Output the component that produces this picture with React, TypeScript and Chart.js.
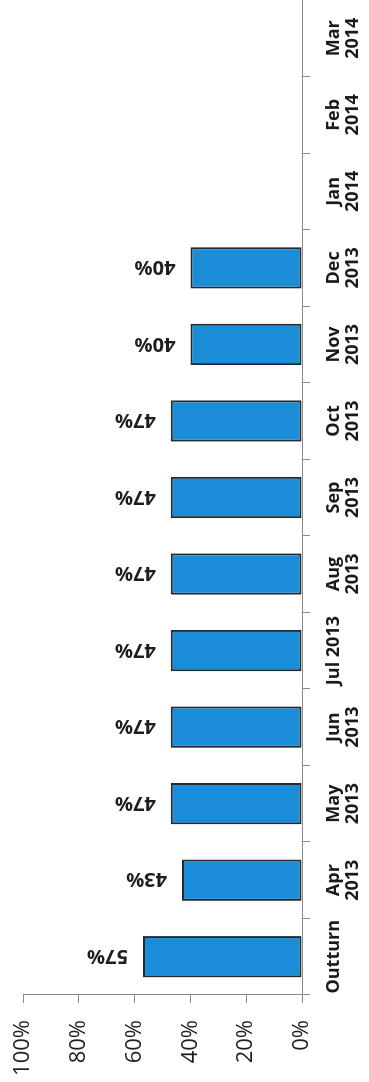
import React, { useEffect, useRef } from "react";
import { Chart, registerables } from "chart.js";

Chart.register(...registerables);

const categories: (string | string[])[] = [
  "Outturn",
  ["Apr", "2013"],
  ["May", "2013"],
  ["Jun", "2013"],
  "Jul 2013",
  ["Aug", "2013"],
  ["Sep", "2013"],
  ["Oct", "2013"],
  ["Nov", "2013"],
  ["Dec", "2013"],
  ["Jan", "2014"],
  ["Feb", "2014"],
  ["Mar", "2014"],
];

const values: (number | null)[] = [57, 43, 47, 47, 47, 47, 47, 47, 40, 40, null, null, null];

const valueTicks = [0, 20, 40, 60, 80, 100];

const FONT = "'Open Sans', 'Liberation Sans', sans-serif";

const dataLabelPlugin = {
  id: "dataLabels",
  afterDatasetsDraw(chart: any) {
    const ctx = chart.ctx;
    const meta = chart.getDatasetMeta(0);
    ctx.save();
    ctx.fillStyle = "#1e1e1e";
    ctx.font = `bold 20px ${FONT}`;
    ctx.textAlign = "left";
    ctx.textBaseline = "middle";
    meta.data.forEach((bar: any, i: number) => {
      const v = values[i];
      if (v === null || v === undefined) return;
      ctx.save();
      ctx.translate(bar.x, bar.y - 15);
      ctx.rotate(-Math.PI / 2);
      ctx.fillText(`${v}%`, 0, 1);
      ctx.restore();
    });
    ctx.restore();
  },
};

export default function App() {
  const canvasRef = useRef<HTMLCanvasElement | null>(null);

  useEffect(() => {
    if (!canvasRef.current) return;
    const chart = new Chart(canvasRef.current, {
      type: "bar",
      data: {
        labels: categories,
        datasets: [
          {
            data: values,
            backgroundColor: "#1a8cd8",
            borderColor: "#24292f",
            borderWidth: 2,
            borderSkipped: false,
            categoryPercentage: 1,
            barPercentage: 0.54,
          },
        ],
      },
      options: {
        responsive: false,
        animation: false,
        devicePixelRatio: 1,
        layout: { padding: { top: 23, left: 0, right: 0, bottom: 0 } },
        plugins: {
          legend: { display: false },
          tooltip: { enabled: false },
        },
        scales: {
          x: {
            offset: true,
            grid: {
              offset: true,
              drawOnChartArea: false,
              drawTicks: true,
              tickLength: 8,
              color: "#8a8a8a",
            },
            border: { display: true, color: "#8a8a8a", width: 1 },
            ticks: {
              autoSkip: false,
              maxRotation: 0,
              minRotation: 0,
              padding: 14,
              color: "#1a1a1a",
              font: { family: FONT, size: 18, weight: "bold", lineHeight: 1.06 },
            },
            afterFit: (scale: any) => {
              scale.height = 67;
              scale.paddingLeft = 0;
              scale.paddingRight = 0;
            },
          },
          y: {
            min: 0,
            max: 100,
            afterBuildTicks: (scale: any) => {
              scale.ticks = valueTicks.map((v) => ({ value: v }));
            },
            grid: {
              drawOnChartArea: false,
              drawTicks: true,
              tickLength: 8,
              color: "#8a8a8a",
            },
            border: { display: true, color: "#8a8a8a", width: 1 },
            ticks: {
              padding: 17,
              color: "#1e1e1e",
              font: { family: FONT, size: 22 },
              callback: (v: any) => `${v}%`,
            },
            afterFit: (scale: any) => {
              scale.width = 87;
              scale.paddingTop = 0;
              scale.paddingBottom = 0;
            },
          },
        },
      },
      plugins: [dataLabelPlugin],
    });
    return () => chart.destroy();
  }, []);

  return (
    <div
      style={{
        position: "fixed",
        left: 0,
        top: 0,
        width: 369,
        height: 1082,
        overflow: "hidden",
        background: "#ffffff",
      }}
    >
      <div
        style={{
          position: "absolute",
          left: 0,
          top: 0,
          width: 1082,
          height: 369,
          transformOrigin: "0 0",
          transform: "translate(0px, 1082px) rotate(-90deg)",
        }}
      >
        <canvas ref={canvasRef} width={1082} height={369} style={{ display: "block" }} />
      </div>
    </div>
  );
}
